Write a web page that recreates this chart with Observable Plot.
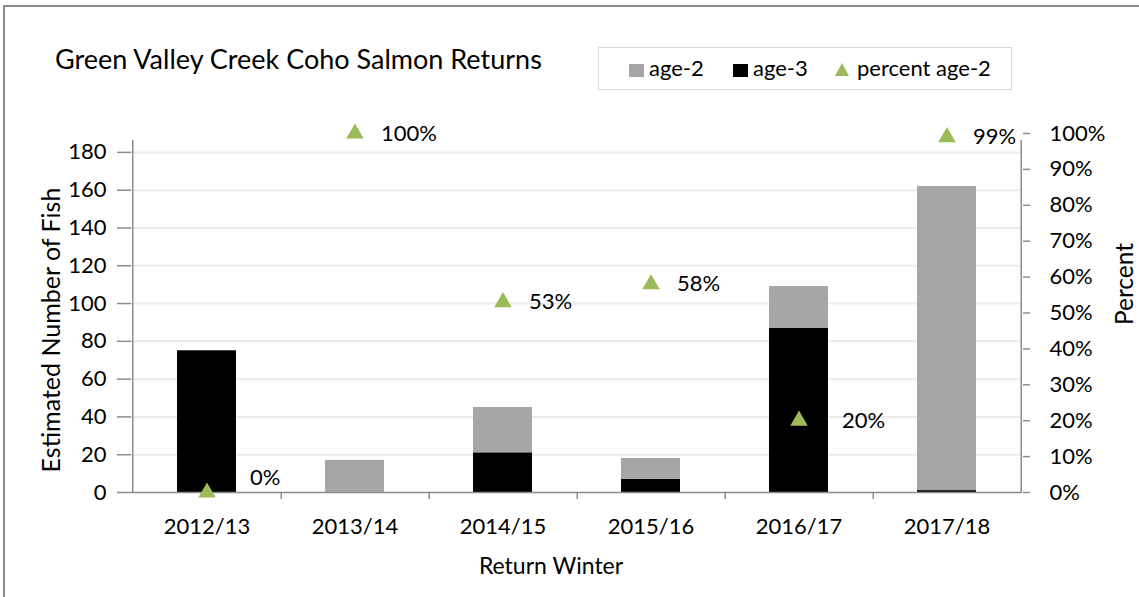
<!DOCTYPE html>
<html>
<head>
<meta charset="utf-8">
<script src="https://cdn.jsdelivr.net/npm/d3@7"></script>
<script src="https://cdn.jsdelivr.net/npm/@observablehq/plot@0.6"></script>
<style>
  html, body { margin: 0; padding: 0; background: #fff; }
  #wrap { position: relative; width: 1139px; height: 597px; overflow: hidden; font-family: Lato, "Open Sans", sans-serif; color: #000; }
  #border { position: absolute; left: 3px; top: 5px; width: 1200px; height: 700px; border-top: 2px solid #8a8a8a; border-left: 2px solid #8a8a8a; }
  #chart { position: absolute; left: 0; top: 0; }
  #title { position: absolute; left: 55px; top: 42px; font-size: 27px; white-space: nowrap; }
  #legend { position: absolute; left: 598px; top: 47px; width: 412px; height: 41px; border: 1.5px solid #d9d9d9; box-sizing: content-box; font-size: 22px; }
  .item { position: absolute; top: 8px; white-space: nowrap; line-height: 24px; }
  .sw { display: inline-block; width: 15px; height: 13px; margin-right: 5px; vertical-align: -1px; }
  .tri { display: inline-block; width: 0; height: 0; border-left: 7px solid transparent; border-right: 7px solid transparent; border-bottom: 13px solid #9bbb59; margin-right: 8px; vertical-align: 0px; }
  .ylab { position: absolute; white-space: nowrap; transform: translate(-50%, -50%) rotate(-90deg); }
  #xlab { position: absolute; font-size: 23px; white-space: nowrap; transform: translate(-50%, -50%); }
</style>
</head>
<body>
<div id="wrap">
  <div id="border"></div>
  <div id="chart"></div>
  <div id="title">Green Valley Creek Coho Salmon Returns</div>
  <div id="legend"></div>
  <div class="ylab" id="ylabL" style="left:50px; top:330px; font-size:25px;">Estimated Number of Fish</div>
  <div class="ylab" id="ylabR" style="left:1123px; top:284px; font-size:24.5px;">Percent</div>
  <div id="xlab" style="left:551px; top:565px;">Return Winter</div>
</div>
<script>
// ---- data ----
const categories = ["2012/13", "2013/14", "2014/15", "2015/16", "2016/17", "2017/18"];
const age2 = [0, 17, 24, 11, 22, 161];
const age3 = [75, 0, 21, 7, 87, 1];
const pctAge2 = [0, 1.00, 0.53, 0.58, 0.20, 0.99];
const pctLabels = ["0%", "100%", "53%", "58%", "20%", "99%"];
const fishTicks = [0, 20, 40, 60, 80, 100, 120, 140, 160, 180];
const pctTicks = [0, 0.1, 0.2, 0.3, 0.4, 0.5, 0.6, 0.7, 0.8, 0.9, 1.0];
const seriesNames = ["age-2", "age-3", "percent age-2"];
const seriesColors = ["#a6a6a6", "#000000", "#9bbb59"];

// ---- build tables ----
const fishMax = 190; // left axis maximum (aligned with 100% on the right axis)
const rows = [];
categories.forEach((c, i) => {
  rows.push({winter: c, age: "age-3", n: age3[i]});
  rows.push({winter: c, age: "age-2", n: age2[i]});
});
const pts = categories.map((c, i) => ({
  winter: c, p: pctAge2[i], label: pctLabels[i],
  inside: pctAge2[i] * fishMax < age3[i]
}));

const W = 1139, H = 597, ML = 131, MR = 117, MT = 133, MB = 105;
const step = (W - ML - MR) / categories.length;
const axisGray = "#8c8c8c";
const textStyle = {x: "winter", y: d => d.p * fishMax, text: "label", textAnchor: "start", fill: "#000"};

const chart = Plot.plot({
  width: W, height: H,
  marginLeft: ML, marginRight: MR, marginTop: MT, marginBottom: MB,
  style: {fontFamily: "Lato, 'Open Sans', sans-serif", fontSize: "22px", color: "#000", background: "transparent", overflow: "visible"},
  x: {domain: categories, paddingInner: 0.6, paddingOuter: 0.3, label: null},
  y: {domain: [0, fishMax], label: null},
  color: {domain: seriesNames.slice(0, 2), range: seriesColors.slice(0, 2)},
  marks: [
    Plot.ruleY(fishTicks.filter(d => d > 0), {stroke: "#ebebeb", strokeWidth: 2}),
    Plot.barY(rows, {x: "winter", y: "n", fill: "age", order: ["age-3", "age-2"]}),
    Plot.ruleY([0], {stroke: axisGray, strokeWidth: 1.5}),
    // left and right axis lines (with their bottom tick)
    Plot.ruleX([categories[0]], {x: d => d, y1: 0, y2: fishMax, dx: -step / 2, insetBottom: -7, stroke: axisGray, strokeWidth: 1.5}),
    Plot.ruleX([categories[categories.length - 1]], {x: d => d, y1: 0, y2: fishMax, dx: step / 2, insetBottom: -7, stroke: axisGray, strokeWidth: 1.5}),
    // category boundary ticks
    Plot.ruleX(categories.slice(0, -1), {x: d => d, y1: 0, y2: 0, dx: step / 2, insetBottom: -7, stroke: axisGray, strokeWidth: 1.5}),
    Plot.axisY(fishTicks, {anchor: "left", tickSize: 14, tickPadding: 11, stroke: axisGray, strokeWidth: 1.5, label: null, fill: "#000"}),
    Plot.axisY(pctTicks.map(p => p * fishMax), {anchor: "right", tickSize: 7, tickPadding: 20, stroke: axisGray, strokeWidth: 1.5, label: null,
      tickFormat: d => Math.round(d / fishMax * 100) + "%", fill: "#000"}),
    Plot.axisX({tickSize: 0, tickPadding: 26, label: null, fill: "#000"}),
    Plot.dot(pts, {x: "winter", y: d => d.p * fishMax, symbol: "triangle", r: 6.5, fill: seriesColors[2]}),
    Plot.text(pts.filter(d => !d.inside), {...textStyle, dx: 26}),
    Plot.text(pts.filter(d => d.inside && d.p > 0), {...textStyle, dx: 43}),
    Plot.text(pts.filter(d => d.inside && d.p === 0), {...textStyle, dx: 43, dy: -15})
  ]
});
document.getElementById("chart").appendChild(chart);

// legend
const legend = document.getElementById("legend");
const lx = [30, 134, 236];
seriesNames.forEach((name, i) => {
  const it = document.createElement("div");
  it.className = "item";
  it.style.left = lx[i] + "px";
  const mark = document.createElement("span");
  if (i < 2) { mark.className = "sw"; mark.style.background = seriesColors[i]; }
  else { mark.className = "tri"; }
  it.appendChild(mark);
  it.appendChild(document.createTextNode(name));
  legend.appendChild(it);
});
</script>
</body>
</html>
